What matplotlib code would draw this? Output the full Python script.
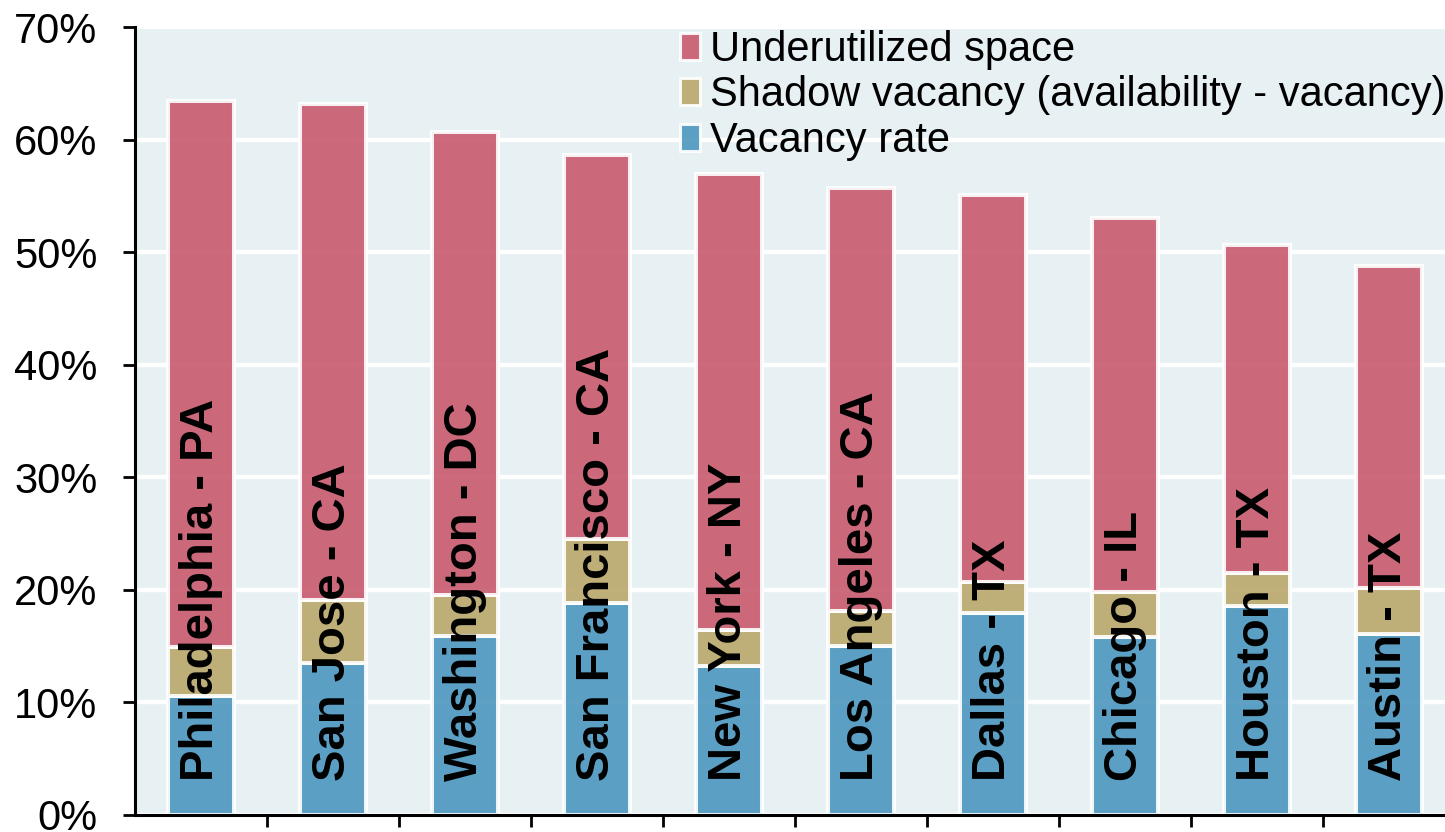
import numpy as np
import matplotlib
matplotlib.use("Agg")
import matplotlib.pyplot as plt
from matplotlib.patches import Patch

plt.rcParams['font.family'] = ['Liberation Sans', 'DejaVu Sans']

# Office markets, share of space (%)
cities = ["Philadelphia - PA", "San Jose - CA", "Washington - DC",
          "San Francisco - CA", "New York - NY", "Los Angeles - CA",
          "Dallas - TX", "Chicago - IL", "Houston - TX", "Austin - TX"]
vacancy = [10.6, 13.5, 15.9, 18.8, 13.2, 15.0, 17.9, 15.8, 18.6, 16.1]
shadow = [4.3, 5.6, 3.6, 5.7, 3.2, 3.1, 2.8, 4.0, 2.9, 4.1]
underutilized = [48.5, 44.1, 41.2, 34.1, 40.5, 37.6, 34.4, 33.2, 29.1, 28.6]

labels = ["Underutilized space", "Shadow vacancy (availability - vacancy)", "Vacancy rate"]
yticks = [0, 10, 20, 30, 40, 50, 60, 70]

c_under = "#C85A6E"
c_shadow = "#BAA76A"
c_vac = "#4C97BF"
bg = "#E7F0F3"

W, H = 1445, 832
fig = plt.figure(figsize=(W / 100, H / 100), dpi=100)
ax = fig.add_axes([135 / W, 17 / H, 1 - 135 / W, (815 - 27) / H])
ax.set_facecolor(bg)

x = np.arange(len(cities))
vac = np.array(vacancy)
sha = np.array(shadow)
und = np.array(underutilized)

bar_kw = dict(width=0.5, edgecolor="white", linewidth=2.9, alpha=0.9, zorder=2)
ax.bar(x, vac, color=c_vac, **bar_kw)
ax.bar(x, sha, bottom=vac, color=c_shadow, **bar_kw)
ax.bar(x, und, bottom=vac + sha, color=c_under, **bar_kw)

# city names written up the bars
for xi, name in zip(x, cities):
    ax.text(xi, 3.0, name, rotation=90, ha="center", va="bottom",
            fontsize=34, fontweight="bold", color="black", zorder=3)

ax.set_xlim(-0.5, -0.5 + (W - 135) / 132)
ax.set_ylim(0, 70)
ax.set_yticks(yticks)
ax.set_yticklabels([f"{v}%" for v in yticks], fontsize=30)
ax.set_xticks(np.arange(0.5, len(cities) - 1, 1))
ax.set_xticklabels([])

ax.yaxis.grid(True, color="white", linewidth=3.2)
ax.set_axisbelow(True)
ax.tick_params(axis="y", direction="out", length=8.6, width=2, pad=18.5, colors="black")
ax.tick_params(axis="x", direction="out", length=8.6, width=2)

for side in ["top", "right"]:
    ax.spines[side].set_visible(False)
for side in ["left", "bottom"]:
    ax.spines[side].set_linewidth(2.2)
    ax.spines[side].set_color("black")

handles = [Patch(facecolor=c, edgecolor="white", linewidth=2.2, alpha=0.9)
           for c in [c_under, c_shadow, c_vac]]
fig.legend(handles, labels, loc="upper right", bbox_to_anchor=(1445 / W, 1 - 30 / H),
           frameon=False, fontsize=30, borderpad=0, borderaxespad=0,
           handlelength=0.48, handleheight=0.62, handletextpad=0.22,
           labelspacing=0.13)

fig.savefig("out.png", dpi=100)
